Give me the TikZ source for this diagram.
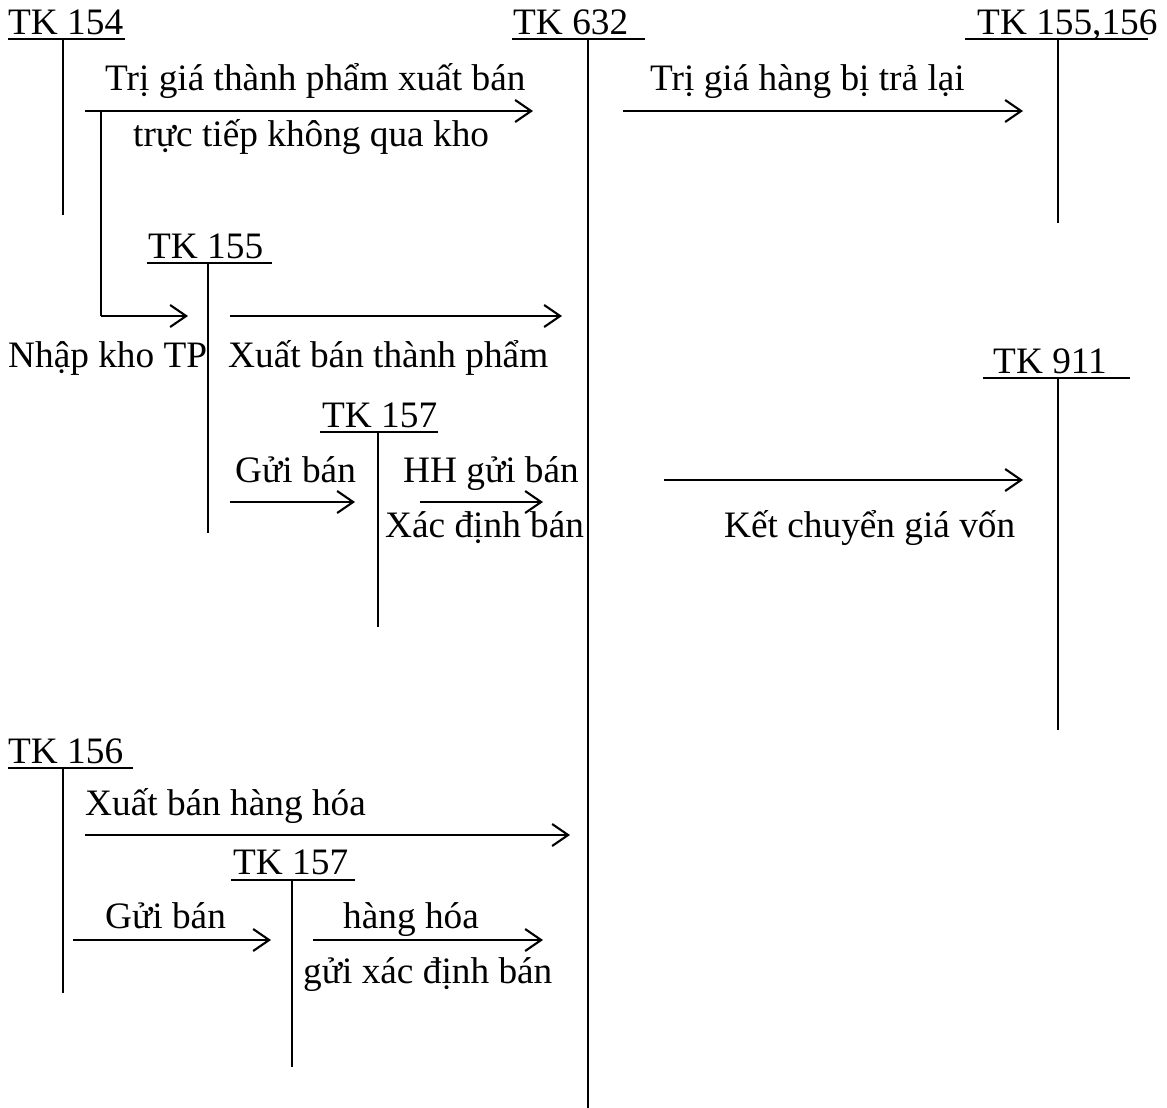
\documentclass[tikz,border=0pt]{standalone}
\usepackage{fontspec}
\setmainfont{Liberation Serif}
\usetikzlibrary{arrows.meta}
\begin{document}
\begin{tikzpicture}[x=1pt,y=-1pt,
  txt/.style={anchor=base west,inner sep=0pt,font=\fontsize{37.3}{44}\selectfont},
  tline/.style={line width=1.8pt},
  uline/.style={line width=1.8pt},
  arr/.style={line width=2.1pt,-{Straight Barb[length=16pt,width=22pt]}}]
\useasboundingbox (0,0) rectangle (1167,1108);

% ---------- T accounts ----------
% TK 154
\node[txt] (t154) at (8,35) {TK 154};
\coordinate (u154a) at (8,39); \coordinate (u154b) at (125,39);
\coordinate (v154a) at (63,39); \coordinate (v154b) at (63,215);
\draw[uline] (u154a) -- (u154b); \draw[tline] (v154a) -- (v154b);
% TK 632
\node[txt] (t632) at (513,35) {TK 632};
\coordinate (u632a) at (512,39); \coordinate (u632b) at (645,39);
\coordinate (v632a) at (588,39); \coordinate (v632b) at (588,1108);
\draw[uline] (u632a) -- (u632b); \draw[tline] (v632a) -- (v632b);
% TK 155,156
\node[txt] (t155156) at (977,35) {TK 155,156};
\coordinate (u5a) at (965,39); \coordinate (u5b) at (1148,39);
\coordinate (v5a) at (1058,39); \coordinate (v5b) at (1058,223);
\draw[uline] (u5a) -- (u5b); \draw[tline] (v5a) -- (v5b);
% TK 155
\node[txt] (t155) at (148,258) {TK 155};
\coordinate (u155a) at (147,263); \coordinate (u155b) at (272,263);
\coordinate (v155a) at (208,263); \coordinate (v155b) at (208,533);
\draw[uline] (u155a) -- (u155b); \draw[tline] (v155a) -- (v155b);
% TK 911
\node[txt] (t911) at (993,373) {TK 911};
\coordinate (u911a) at (983,378); \coordinate (u911b) at (1130,378);
\coordinate (v911a) at (1058,378); \coordinate (v911b) at (1058,730);
\draw[uline] (u911a) -- (u911b); \draw[tline] (v911a) -- (v911b);
% TK 157 (upper)
\node[txt] (t157a) at (322,427) {TK 157};
\coordinate (u157a) at (320,432); \coordinate (u157b) at (438,432);
\coordinate (v157a) at (378,432); \coordinate (v157b) at (378,627);
\draw[uline] (u157a) -- (u157b); \draw[tline] (v157a) -- (v157b);
% TK 156
\node[txt] (t156) at (8,763) {TK 156};
\coordinate (u156a) at (8,768); \coordinate (u156b) at (133,768);
\coordinate (v156a) at (63,768); \coordinate (v156b) at (63,993);
\draw[uline] (u156a) -- (u156b); \draw[tline] (v156a) -- (v156b);
% TK 157 (lower)
\node[txt] (t157b) at (233,874) {TK 157};
\coordinate (u157c) at (231,880); \coordinate (u157d) at (355,880);
\coordinate (v157c) at (292,880); \coordinate (v157d) at (292,1067);
\draw[uline] (u157c) -- (u157d); \draw[tline] (v157c) -- (v157d);

% ---------- arrows ----------
\coordinate (a1s) at (85,111); \coordinate (a1e) at (533,111);
\draw[arr] (a1s) -- (a1e);
\node[txt] (l1a) at (105,91) {Trị giá thành phẩm xuất bán};
\node[txt] (l1b) at (133,146) {trực tiếp không qua kho};

\coordinate (b1) at (101,111); \coordinate (b2) at (101,316); \coordinate (b3) at (188,316);
\draw[tline] (b1) -- (b2);
\draw[arr] (b2) -- (b3);
\node[txt] (l2) at (8,367) {Nhập kho TP};

\coordinate (a2s) at (230,316); \coordinate (a2e) at (562,316);
\draw[arr] (a2s) -- (a2e);
\node[txt] (l3) at (228,367) {Xuất bán thành phẩm};

\coordinate (a3s) at (623,111); \coordinate (a3e) at (1023,111);
\draw[arr] (a3s) -- (a3e);
\node[txt] (l4) at (650,91) {Trị giá hàng bị trả lại};

\coordinate (a4s) at (664,480); \coordinate (a4e) at (1023,480);
\draw[arr] (a4s) -- (a4e);
\node[txt] (l5) at (724,537) {Kết chuyển giá vốn};

\coordinate (a5s) at (230,502); \coordinate (a5e) at (355,502);
\draw[arr] (a5s) -- (a5e);
\node[txt] (l6) at (235,482) {Gửi bán};

\coordinate (a6s) at (420,502); \coordinate (a6e) at (543,502);
\draw[arr] (a6s) -- (a6e);
\node[txt] (l7) at (403,482) {HH gửi bán};
\node[txt] (l8) at (385,537) {Xác định bán};

\coordinate (a7s) at (85,835); \coordinate (a7e) at (570,835);
\draw[arr] (a7s) -- (a7e);
\node[txt] (l9) at (85,815) {Xuất bán hàng hóa};

\coordinate (a8s) at (73,940); \coordinate (a8e) at (271,940);
\draw[arr] (a8s) -- (a8e);
\node[txt] (l10) at (105,928) {Gửi bán};

\coordinate (a9s) at (313,940); \coordinate (a9e) at (543,940);
\draw[arr] (a9s) -- (a9e);
\node[txt] (l11) at (343,928) {hàng hóa};
\node[txt] (l12) at (303,983) {gửi xác định bán};
\end{tikzpicture}
\end{document}
